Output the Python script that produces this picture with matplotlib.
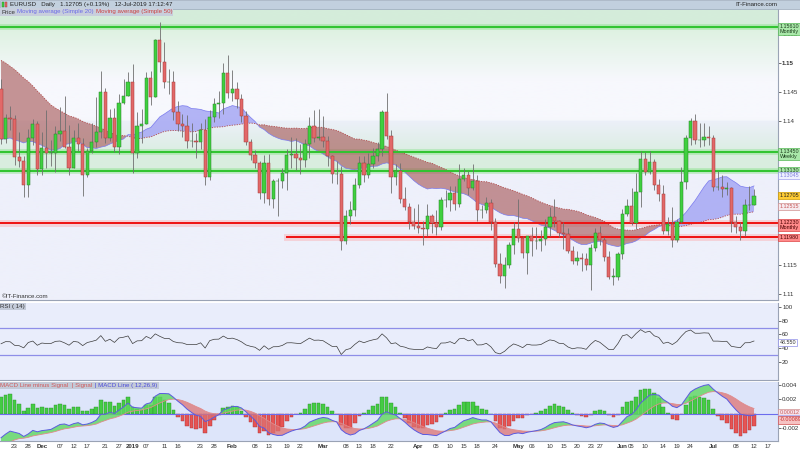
"""
EURUSD daily chart (Nov 2018 - Jul 2019) with SMA ribbon, RSI(14) and MACD(12,26,9).
"""

import numpy as np
import pandas as pd
import matplotlib

matplotlib.use("Agg")
import matplotlib.pyplot as plt
from matplotlib.colors import to_rgb
from matplotlib.patches import Rectangle
from matplotlib.transforms import blended_transform_factory

plt.rcParams["font.family"] = ["Liberation Sans", "DejaVu Sans"]

W, H = 800, 450

# ---------------- data ----------------
start_date = "2018-11-20"
holidays = ["2018-12-25", "2019-01-01"]

# closes before the visible window, only used to warm up SMA50 / MACD / RSI
warmup_close = [
    1.1603, 1.1583, 1.1627, 1.1624, 1.1553, 1.1595, 1.1600, 1.1625, 1.1690, 1.1624,
    1.1686, 1.1666, 1.1673, 1.1777, 1.1746, 1.1748, 1.1765, 1.1740, 1.1642, 1.1604,
    1.1578, 1.1548, 1.1478, 1.1514, 1.1524, 1.1490, 1.1491, 1.1523, 1.1593, 1.1561,
    1.1580, 1.1575, 1.1502, 1.1453, 1.1513, 1.1464, 1.1471, 1.1392, 1.1376, 1.1403,
    1.1374, 1.1347, 1.1312,
    1.1409, 1.1388, 1.1407, 1.1431, 1.1428, 1.1362, 1.1335, 1.1216, 1.1291, 1.1317,
    1.1327, 1.1417, 1.1454,
]

opens = [
    # Nov
    1.1455, 1.1368, 1.1405, 1.1403, 1.1337, 1.1330, 1.1288, 1.1370, 1.1394,
    # Dec
    1.1316, 1.1353, 1.1343, 1.1344, 1.1376, 1.1381, 1.1354, 1.1318, 1.1370, 1.1360,
    1.1306, 1.1347, 1.1362, 1.1380, 1.1450, 1.1370, 1.1404, 1.1354, 1.1430, 1.1443,
    # Jan
    1.1466, 1.1344, 1.1391, 1.1394, 1.1474, 1.1440, 1.1540, 1.1501, 1.1467, 1.1467,
    1.1414, 1.1394, 1.1390, 1.1364, 1.1365, 1.1362, 1.1384, 1.1303, 1.1406, 1.1429,
    1.1431, 1.1482,
    # Feb
    1.1448, 1.1455, 1.1437, 1.1407, 1.1362, 1.1341, 1.1326, 1.1274, 1.1326, 1.1264,
    1.1295, 1.1296, 1.1310, 1.1341, 1.1342, 1.1336, 1.1331, 1.1359, 1.1391, 1.1369,
    # Mar
    1.1371, 1.1365, 1.1338, 1.1307, 1.1308, 1.1192, 1.1234, 1.1246, 1.1288, 1.1327,
    1.1306, 1.1325, 1.1339, 1.1350, 1.1415, 1.1374, 1.1302, 1.1312, 1.1265, 1.1251,
    1.1225,
    # Apr
    1.1217, 1.1214, 1.1213, 1.1235, 1.1222, 1.1216, 1.1262, 1.1263, 1.1274, 1.1255,
    1.1299, 1.1305, 1.1283, 1.1295, 1.1245, 1.1246, 1.1258, 1.1224, 1.1151, 1.1131,
    1.1150, 1.1184,
    # May
    1.1213, 1.1196, 1.1170, 1.1200, 1.1191, 1.1191, 1.1195, 1.1215, 1.1233, 1.1226,
    1.1206, 1.1203, 1.1174, 1.1157, 1.1163, 1.1161, 1.1150, 1.1180, 1.1206, 1.1193,
    1.1164, 1.1130, 1.1130,
    # Jun
    1.1169, 1.1239, 1.1252, 1.1222, 1.1277, 1.1334, 1.1311, 1.1328, 1.1288, 1.1273,
    1.1208, 1.1221, 1.1193, 1.1225, 1.1294, 1.1370, 1.1400, 1.1366, 1.1366, 1.1372,
    # Jul
    1.1370, 1.1285, 1.1285, 1.1282, 1.1283, 1.1225, 1.1215, 1.1208, 1.1253, 1.1254,
]

highs = [
    1.1472, 1.1412, 1.1425, 1.1410, 1.1380, 1.1339, 1.1386, 1.1402, 1.1399,
    1.1380, 1.1419, 1.1366, 1.1391, 1.1424, 1.1443, 1.1392, 1.1384, 1.1396, 1.1369,
    1.1353, 1.1395, 1.1440, 1.1486, 1.1456, 1.1420, 1.1421, 1.1445, 1.1472, 1.1484,
    1.1497, 1.1414, 1.1420, 1.1484, 1.1486, 1.1541, 1.1570, 1.1536, 1.1489, 1.1486,
    1.1433, 1.1411, 1.1409, 1.1395, 1.1379, 1.1396, 1.1402, 1.1418, 1.1439, 1.1451,
    1.1499, 1.1514,
    1.1488, 1.1467, 1.1445, 1.1416, 1.1368, 1.1349, 1.1330, 1.1340, 1.1342, 1.1298,
    1.1301, 1.1318, 1.1351, 1.1372, 1.1369, 1.1359, 1.1368, 1.1406, 1.1419, 1.1420,
    1.1408, 1.1374, 1.1340, 1.1330, 1.1321, 1.1245, 1.1261, 1.1301, 1.1338, 1.1339,
    1.1344, 1.1352, 1.1362, 1.1419, 1.1448, 1.1383, 1.1325, 1.1326, 1.1285, 1.1257,
    1.1248,
    1.1255, 1.1226, 1.1255, 1.1238, 1.1245, 1.1268, 1.1280, 1.1287, 1.1287, 1.1324,
    1.1318, 1.1313, 1.1324, 1.1306, 1.1253, 1.1268, 1.1264, 1.1232, 1.1170, 1.1164,
    1.1189, 1.1224,
    1.1265, 1.1201, 1.1200, 1.1216, 1.1216, 1.1210, 1.1230, 1.1251, 1.1264, 1.1228,
    1.1225, 1.1214, 1.1183, 1.1174, 1.1170, 1.1171, 1.1187, 1.1214, 1.1217, 1.1199,
    1.1175, 1.1145, 1.1172,
    1.1247, 1.1265, 1.1284, 1.1309, 1.1348, 1.1346, 1.1348, 1.1333, 1.1298, 1.1288,
    1.1233, 1.1250, 1.1229, 1.1319, 1.1375, 1.1404, 1.1412, 1.1395, 1.1395, 1.1390,
    1.1375, 1.1313, 1.1306, 1.1294, 1.1285, 1.1235, 1.1225, 1.1265, 1.1286, 1.1281,
]

lows = [
    1.1360, 1.1361, 1.1384, 1.1323, 1.1320, 1.1267, 1.1268, 1.1357, 1.1306,
    1.1306, 1.1318, 1.1321, 1.1311, 1.1365, 1.1353, 1.1305, 1.1318, 1.1348, 1.1269,
    1.1302, 1.1343, 1.1355, 1.1370, 1.1361, 1.1365, 1.1345, 1.1342, 1.1428, 1.1442,
    1.1309, 1.1336, 1.1361, 1.1394, 1.1426, 1.1440, 1.1484, 1.1456, 1.1445, 1.1401,
    1.1381, 1.1372, 1.1353, 1.1354, 1.1336, 1.1350, 1.1289, 1.1297, 1.1397, 1.1405,
    1.1412, 1.1439,
    1.1433, 1.1422, 1.1398, 1.1357, 1.1332, 1.1317, 1.1265, 1.1257, 1.1253, 1.1249,
    1.1234, 1.1283, 1.1280, 1.1318, 1.1315, 1.1307, 1.1320, 1.1336, 1.1362, 1.1367,
    1.1354, 1.1322, 1.1292, 1.1290, 1.1176, 1.1187, 1.1221, 1.1234, 1.1284, 1.1294,
    1.1300, 1.1318, 1.1330, 1.1338, 1.1368, 1.1274, 1.1288, 1.1257, 1.1245, 1.1213,
    1.1212,
    1.1206, 1.1184, 1.1201, 1.1205, 1.1202, 1.1210, 1.1250, 1.1243, 1.1246, 1.1251,
    1.1296, 1.1271, 1.1280, 1.1227, 1.1232, 1.1240, 1.1210, 1.1147, 1.1119, 1.1111,
    1.1145, 1.1169,
    1.1189, 1.1163, 1.1135, 1.1166, 1.1178, 1.1174, 1.1185, 1.1200, 1.1215, 1.1199,
    1.1178, 1.1170, 1.1152, 1.1150, 1.1139, 1.1141, 1.1107, 1.1174, 1.1185, 1.1157,
    1.1125, 1.1116, 1.1124,
    1.1160, 1.1235, 1.1220, 1.1213, 1.1251, 1.1305, 1.1307, 1.1279, 1.1260, 1.1203,
    1.1202, 1.1181, 1.1190, 1.1223, 1.1282, 1.1358, 1.1360, 1.1354, 1.1356, 1.1358,
    1.1278, 1.1279, 1.1267, 1.1271, 1.1207, 1.1205, 1.1193, 1.1201, 1.1246, 1.1253,
]

closes = [
    1.1368, 1.1405, 1.1403, 1.1337, 1.1330, 1.1288, 1.1370, 1.1394, 1.1316,
    1.1353, 1.1343, 1.1344, 1.1376, 1.1381, 1.1354, 1.1318, 1.1370, 1.1360, 1.1306,
    1.1347, 1.1362, 1.1380, 1.1450, 1.1370, 1.1404, 1.1354, 1.1430, 1.1443, 1.1466,
    1.1344, 1.1391, 1.1394, 1.1474, 1.1440, 1.1540, 1.1501, 1.1467, 1.1467, 1.1414,
    1.1394, 1.1390, 1.1364, 1.1365, 1.1362, 1.1384, 1.1303, 1.1406, 1.1429, 1.1431,
    1.1482, 1.1448,
    1.1455, 1.1437, 1.1407, 1.1362, 1.1341, 1.1326, 1.1274, 1.1326, 1.1264, 1.1295,
    1.1296, 1.1310, 1.1341, 1.1342, 1.1336, 1.1331, 1.1359, 1.1391, 1.1369, 1.1371,
    1.1365, 1.1338, 1.1307, 1.1308, 1.1192, 1.1234, 1.1246, 1.1288, 1.1327, 1.1306,
    1.1325, 1.1339, 1.1350, 1.1415, 1.1374, 1.1302, 1.1312, 1.1265, 1.1251, 1.1225,
    1.1217,
    1.1214, 1.1213, 1.1235, 1.1222, 1.1216, 1.1262, 1.1263, 1.1274, 1.1255, 1.1299,
    1.1305, 1.1283, 1.1295, 1.1245, 1.1246, 1.1258, 1.1224, 1.1151, 1.1131, 1.1150,
    1.1184, 1.1213,
    1.1196, 1.1170, 1.1200, 1.1191, 1.1191, 1.1195, 1.1215, 1.1233, 1.1226, 1.1206,
    1.1203, 1.1174, 1.1157, 1.1163, 1.1161, 1.1150, 1.1180, 1.1206, 1.1193, 1.1164,
    1.1130, 1.1130, 1.1169,
    1.1239, 1.1252, 1.1222, 1.1277, 1.1334, 1.1311, 1.1328, 1.1288, 1.1273, 1.1208,
    1.1221, 1.1193, 1.1225, 1.1294, 1.1370, 1.1400, 1.1366, 1.1366, 1.1372, 1.1370,
    1.1285, 1.1285, 1.1282, 1.1283, 1.1225, 1.1215, 1.1208, 1.1253, 1.1254, 1.1270,
]

# support / resistance levels
green_levels = [1.15610, 1.13450, 1.13130]
red_levels = [1.12230, 1.11980]
red_level_start = ["2018-11-20", "2019-02-19"]

# right-hand value tags
price_tag_values = [1.15610, 1.13450, 1.13130, 1.13045, 1.12705, 1.12515, 1.12230, 1.11980]
price_tag_texts = ["1.15610\nMonthly", "1.13450\nWeekly", "1.13130", "1.13045",
                   "1.12705", "1.12515", "1.12230\nMonthly", "1.11980"]
rsi_tag_value, rsi_tag_text = 48.55, "48.550"
macd_tag_values = [0.00012, -0.00075, -0.00089]
macd_tag_texts = ["0.00012", "-0.00075", "-0.00089"]

# axis ticks (the ones hidden under value tags in the original carry no label)
price_ticks = [1.11, 1.115, 1.12, 1.125, 1.13, 1.135, 1.14, 1.145, 1.15, 1.155]
price_tick_labels = ["1.11", "1.115", "", "", "", "", "1.14", "1.145", "1.15", "1.155"]
rsi_ticks = [20, 40, 60, 80, 100]
macd_ticks = [-0.002, 0.0, 0.002, 0.004]
macd_tick_labels = ["-0.002", "", "0.002", "0.004"]

# date axis
tick_dates = [
    "2018-11-23", "2018-11-28", "2018-12-03", "2018-12-07", "2018-12-12", "2018-12-17",
    "2018-12-21", "2018-12-27", "2019-01-02", "2019-01-07", "2019-01-11", "2019-01-16",
    "2019-01-23", "2019-01-28", "2019-02-01", "2019-02-08", "2019-02-13", "2019-02-19",
    "2019-02-22", "2019-03-01", "2019-03-08", "2019-03-13", "2019-03-18", "2019-03-22",
    "2019-04-01", "2019-04-05", "2019-04-10", "2019-04-15", "2019-04-18", "2019-04-24",
    "2019-05-01", "2019-05-06", "2019-05-10", "2019-05-15", "2019-05-20", "2019-05-23",
    "2019-05-27", "2019-06-03", "2019-06-05", "2019-06-10", "2019-06-14", "2019-06-19",
    "2019-06-24", "2019-07-01", "2019-07-08", "2019-07-12", "2019-07-17",
]
tick_labels = [
    "23", "28", "Dec", "07", "12", "17", "21", "27", "2019", "07", "11", "16",
    "23", "28", "Feb", "08", "13", "19", "22", "Mar", "08", "13", "18", "22",
    "Apr", "05", "10", "15", "18", "24", "May", "06", "10", "15", "20", "23",
    "27", "Jun", "05", "10", "14", "19", "24", "Jul", "08", "12", "17",
]
bold_labels = {"Dec", "2019", "Feb", "Mar", "Apr", "May", "Jun", "Jul"}

# ---------------- indicators ----------------
o = np.array(opens)
h = np.array(highs)
l = np.array(lows)
c = np.array(closes)
n = len(c)
n_warm = len(warmup_close)

s = pd.Series(warmup_close + closes)
ma20 = s.rolling(20).mean().values[n_warm:]
ma50 = s.rolling(50).mean().values[n_warm:]
ema12 = s.ewm(span=12, adjust=False).mean()
ema26 = s.ewm(span=26, adjust=False).mean()
macd_s = ema12 - ema26
signal_s = macd_s.ewm(span=9, adjust=False).mean()
macd = macd_s.values[n_warm:]
signal = signal_s.values[n_warm:]
hist = macd - signal
delta = s.diff()
gain = delta.clip(lower=0).ewm(alpha=1 / 14, adjust=False).mean()
loss = (-delta.clip(upper=0)).ewm(alpha=1 / 14, adjust=False).mean()
rsi = (100 - 100 / (1 + gain / loss)).values[n_warm:]

all_days = pd.bdate_range(start_date, "2019-07-31")
all_days = all_days[~all_days.isin(pd.to_datetime(holidays))]
day_pos = {d.strftime("%Y-%m-%d"): i for i, d in enumerate(all_days)}
idx = np.arange(n)

# ---------------- layout ----------------
PX_PER_DAY = 4.536
X_LO = 13 - 60 / PX_PER_DAY
X_HI = 13 + 718 / PX_PER_DAY
FS = 4.4
TAG_FS = 3.9


def rect(x0, y0, x1, y1):
    return [x0 / W, 1 - y1 / H, (x1 - x0) / W, (y1 - y0) / H]


fig = plt.figure(figsize=(W / 100, H / 100), dpi=100, facecolor="white")
ax_p = fig.add_axes(rect(0, 9, 778, 300))
ax_r = fig.add_axes(rect(0, 303, 778, 380))
ax_m = fig.add_axes(rect(0, 382, 778, 441))

for ax in (ax_p, ax_r, ax_m):
    ax.set_xlim(X_LO, X_HI)
    ax.yaxis.tick_right()
    ax.tick_params(axis="y", labelsize=FS, length=2, pad=1, colors="#333333", width=0.5)
    ax.tick_params(axis="x", length=0)
    for side in ("left", "top"):
        ax.spines[side].set_visible(False)
    for side in ("right", "bottom"):
        ax.spines[side].set_color("#9aa3b5")
        ax.spines[side].set_linewidth(0.8)

ax_p.set_xticks([])
ax_r.set_xticks([])

# ---- price panel background ----
P_LO, P_HI = 1.10895, 1.15929
ax_p.set_ylim(P_LO, P_HI)
yy = np.linspace(P_LO, P_HI, 600)
wgt = np.zeros_like(yy)
wgt[yy >= 1.1561] = 0.6
m = (yy < 1.1561) & (yy > 1.1470)
wgt[m] = 0.5 * (yy[m] - 1.1470) / (1.1561 - 1.1470)
m = (yy >= 1.1313) & (yy <= 1.1345)
wgt[m] = 0.5
m = (yy > 1.1345) & (yy < 1.1405)
wgt[m] = 0.45 * (1.1405 - yy[m]) / (1.1405 - 1.1345)
base = np.array(to_rgb("#eef0fb"))
green = np.array(to_rgb("#c4ebc4"))
white_top = (yy > 1.140) & (yy < 1.1561)
base_rows = np.tile(base, (len(yy), 1))
base_rows[white_top] = np.array(to_rgb("#f7f8fd"))
img = base_rows * (1 - wgt[:, None]) + green * wgt[:, None]
ax_p.imshow(img[:, None, :], aspect="auto", extent=(X_LO, X_HI, P_LO, P_HI),
            origin="lower", zorder=0, interpolation="bilinear")

# ---- levels ----
for lv in green_levels:
    ax_p.axhline(lv, color="#7ee07e", lw=4, alpha=0.45, zorder=1)
    ax_p.axhline(lv, color="#2fc42f", lw=1.4, zorder=2)
for lv, d0 in zip(red_levels, red_level_start):
    xmin = (day_pos[d0] - X_LO) / (X_HI - X_LO) if d0 != start_date else 0
    ax_p.axhline(lv, xmin=xmin, color="#ff9a9a", lw=5, alpha=0.35, zorder=1)
    ax_p.axhline(lv, xmin=xmin, color="#ee1111", lw=1.4, zorder=2)

# ---- SMA ribbon ----
ax_p.fill_between(idx, ma20, ma50, where=ma20 >= ma50, interpolate=True,
                  color="#a6a8f4", alpha=0.85, lw=0, zorder=1.5)
ax_p.fill_between(idx, ma20, ma50, where=ma20 < ma50, interpolate=True,
                  color="#a65656", alpha=0.62, lw=0, zorder=1.5)
ax_p.plot(idx, ma20, color="#7a7aee", lw=0.5, zorder=1.6)
ax_p.plot(idx, ma50, color="#b04848", lw=0.6, ls=(0, (1.5, 1.5)), zorder=1.6)

# ---- candles ----
up = c >= o
body = np.maximum(np.abs(c - o), 0.00004)
ax_p.vlines(idx, l, h, color="#6f6f6f", lw=0.6, zorder=3)
ax_p.bar(idx[up], body[up], bottom=o[up], width=0.72, color="#3fd03f",
         edgecolor="#2a7f2a", lw=0.35, zorder=4)
ax_p.bar(idx[~up], body[~up], bottom=c[~up], width=0.72, color="#e26868",
         edgecolor="#a33a3a", lw=0.35, zorder=4)

ax_p.set_yticks(price_ticks)
ax_p.set_yticklabels(price_tick_labels)
for lab in ax_p.get_yticklabels():
    if lab.get_text() == "1.15":
        lab.set_fontweight("bold")


def tag(ax, value, text, fc, ec, tc):
    tr = blended_transform_factory(ax.transAxes, ax.transData)
    two = "\n" in text
    ax.annotate(text, xy=(1.0, value), xycoords=tr, xytext=(1.1, 2.2 if two else 0),
                textcoords="offset points", va="top" if two else "center", ha="left",
                fontsize=TAG_FS, color=tc, linespacing=1.0, annotation_clip=False, zorder=10,
                bbox=dict(boxstyle="square,pad=0.2", fc=fc, ec=ec, lw=0.5))


tag_styles = [
    ("#a9e8a9", "#55b855", "#1d3d1d"),
    ("#a9e8a9", "#55b855", "#1d3d1d"),
    ("#a9e8a9", "#55b855", "#1d3d1d"),
    ("#eef0ff", "#a0a0ee", "#8080dd"),
    ("#ffcc33", "#cc9900", "#222222"),
    ("#f6eaee", "#d09090", "#c85a5a"),
    ("#ff8a8a", "#dd4444", "#4a0000"),
    ("#ff8a8a", "#dd4444", "#4a0000"),
]
for v, t, (fc, ec, tc) in zip(price_tag_values, price_tag_texts, tag_styles):
    tag(ax_p, v, t, fc, ec, tc)

ax_p.text(0.002, 0.004, "©IT-Finance.com", transform=ax_p.transAxes, fontsize=FS,
          color="#333333", va="bottom", ha="left", zorder=10)

# ---- RSI panel ----
ax_r.set_facecolor("#e9edfb")
ax_r.set_ylim(-6.6, 105.8)
ax_r.axhline(70, color="#8e8ee8", lw=0.9)
ax_r.axhline(30, color="#8e8ee8", lw=0.9)
ax_r.plot(idx, rsi, color="#3a3a3a", lw=0.5)
ax_r.set_yticks(rsi_ticks)
tag(ax_r, rsi_tag_value, rsi_tag_text, "white", "#8e8ee8", "#333333")
ax_r.text(0.0, 0.985, "RSI ( 14)", transform=ax_r.transAxes, fontsize=FS, color="#333333",
          va="top", ha="left", bbox=dict(boxstyle="square,pad=0.2", fc="#c3cad8", ec="none"))

# ---- MACD panel ----
HIST_SCALE = 1.8
ax_m.set_facecolor("#dde5fa")
ax_m.set_ylim(-0.00385, 0.00446)
hs = hist * HIST_SCALE
pos = hs >= 0
ax_m.bar(idx[pos], hs[pos], width=0.8, color="#44cc44", edgecolor="#2e8f2e", lw=0.3, zorder=2)
ax_m.bar(idx[~pos], hs[~pos], width=0.8, color="#e65454", edgecolor="#a83232", lw=0.3, zorder=2)
ax_m.axhline(0, color="#6c6cee", lw=0.8, zorder=2.5)
ax_m.fill_between(idx, macd, signal, where=macd >= signal, interpolate=True,
                  color="#5fd85f", alpha=0.8, lw=0, zorder=3)
ax_m.fill_between(idx, macd, signal, where=macd < signal, interpolate=True,
                  color="#dd7272", alpha=0.75, lw=0, zorder=3)
ax_m.plot(idx, signal, color="#e08a8a", lw=0.6, zorder=4)
ax_m.plot(idx, macd, color="#5a5ae0", lw=0.7, zorder=4)
ax_m.set_yticks(macd_ticks)
ax_m.set_yticklabels(macd_tick_labels)
macd_tag_styles = [("#f6e2ea", "#d09090", "#c85a5a"),
                   ("#eef0ff", "#a0a0ee", "#6a6ae0"),
                   ("#f6c2c2", "#d05050", "#c83030")]
for v, t, (fc, ec, tc) in zip(macd_tag_values, macd_tag_texts, macd_tag_styles):
    tag(ax_m, v, t, fc, ec, tc)

x0 = 0.0
for part, col in [("MACD Line minus Signal", "#d05a5a"), (" | Signal", "#d05a5a"),
                  (" | MACD Line ( 12,26,9)", "#4a4ad8")]:
    t = ax_m.text(x0, 0.985, part, transform=ax_m.transAxes, fontsize=FS, color=col,
                  va="top", ha="left", bbox=dict(boxstyle="square,pad=0.2", fc="#c3cad8", ec="none"))
    fig.canvas.draw()
    bb = t.get_window_extent().transformed(ax_m.transAxes.inverted())
    x0 = bb.x1 + 0.002

# ---- date axis ----
ax_m.set_xticks([day_pos[d] for d in tick_dates])
ax_m.set_xticklabels(tick_labels, fontsize=FS, color="#333333")
ax_m.tick_params(axis="x", pad=2)
for lab in ax_m.get_xticklabels():
    if lab.get_text() in bold_labels:
        lab.set_fontweight("bold")

# ---- header ----
fig.patches.append(Rectangle((0, 1 - 9 / H), 1, 9 / H, transform=fig.transFigure,
                             fc="#c2d0de", ec="#9aa8ba", lw=0.5, zorder=0))
fig.patches.append(Rectangle((2 / W, 1 - 7 / H), 2 / W, 5 / H, transform=fig.transFigure,
                             fc="#3fd03f", ec="#2a7f2a", lw=0.3))
fig.patches.append(Rectangle((5 / W, 1 - 7 / H), 2 / W, 5 / H, transform=fig.transFigure,
                             fc="#e26868", ec="#a33a3a", lw=0.3))
fig.text(10 / W, 1 - 4.5 / H, "EURUSD   Daily   1.12705 (+0.13%)   12-Jul-2019 17:12:47",
         fontsize=FS, color="#222222", va="center", ha="left")
fig.text(777 / W, 1 - 4.5 / H, "IT-Finance.com", fontsize=FS, color="#222222",
         va="center", ha="right")

leg_x = 1 / W
for part, col in [("Price", "#333333"), ("Moving average (Simple 20)", "#6a6ae8"),
                  ("Moving average (Simple 50)", "#cc4040")]:
    t = fig.text(leg_x, 1 - 12 / H, part, fontsize=FS, color=col, va="center", ha="left",
                 bbox=dict(boxstyle="square,pad=0.2", fc="#c8cfdc", ec="none"))
    fig.canvas.draw()
    bb = t.get_window_extent().transformed(fig.transFigure.inverted())
    leg_x = bb.x1 + 2 / W

fig.savefig("out.png", dpi=100, facecolor="white")
plt.close(fig)
